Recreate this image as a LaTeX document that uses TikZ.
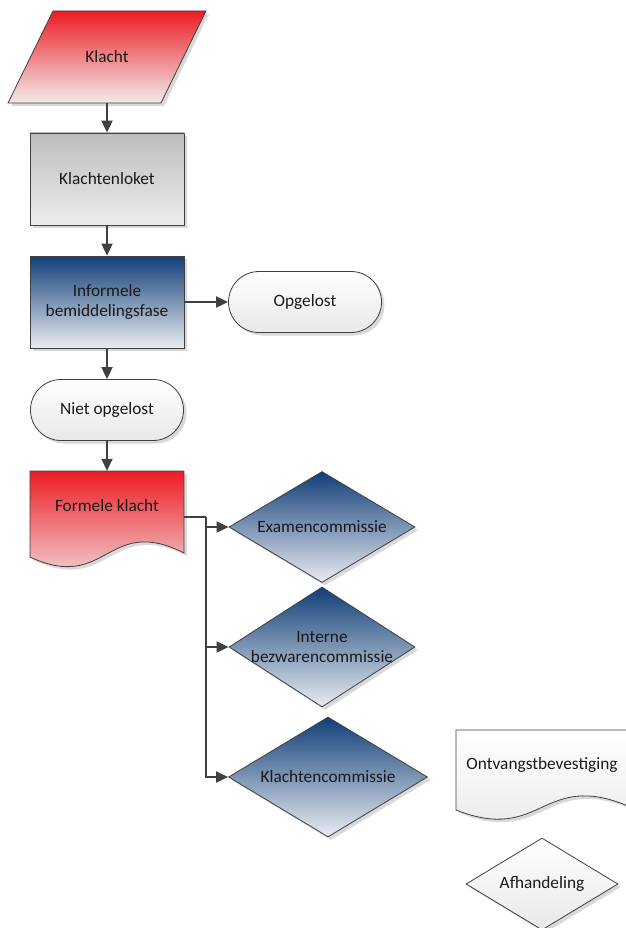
\documentclass[tikz,border=0pt]{standalone}
\usepackage{fontspec}
\setmainfont{Carlito}
\usetikzlibrary{shapes.geometric,shapes.misc,shadows,arrows.meta}
\definecolor{redtop}{HTML}{EC1C24}
\definecolor{redbot}{HTML}{F2ECEC}
\definecolor{bluetop}{HTML}{113F78}
\definecolor{bluebot}{HTML}{E9ECF1}
\definecolor{greytop}{HTML}{BDBDBD}
\definecolor{greybot}{HTML}{EDEDED}
\definecolor{edgec}{HTML}{404040}
\begin{document}
\begin{tikzpicture}[x=1pt,y=-1pt,
  shp/.style={draw=edgec, line width=0.8pt, drop shadow={shadow xshift=3pt,shadow yshift=-3pt,fill=black!15,opacity=1}},
  redfill/.style={top color=redtop,bottom color=redbot},
  bluefill/.style={top color=bluetop,bottom color=bluebot},
  greyfill/.style={top color=greytop,bottom color=greybot},
  whitefill/.style={top color=white,bottom color=black!9},
  box/.style={shp, rectangle, minimum width=154pt, minimum height=92pt, inner sep=0pt},
  frame/.style={rectangle, draw=none, inner sep=0pt},
  term/.style={shp, whitefill, rounded rectangle, minimum width=153pt, minimum height=61pt, inner sep=0pt},
  dia/.style={shp, diamond, inner sep=0pt},
  lbl/.style={font=\fontsize{17.3}{20.6}\selectfont, align=center, text=black!90, inner sep=0pt},
  arr/.style={draw=edgec, line width=1.8pt, -{Triangle[length=12pt,width=11pt]}},
  ln/.style={draw=edgec, line width=1.8pt}
]
\useasboundingbox (0,0) rectangle (625,928);

% Klacht (parallelogram)
\path[shp, redfill] (53,11) -- (206,11) -- (161,103) -- (8,103) -- cycle;
\node[frame, minimum width=153pt, minimum height=92pt] (klacht) at (107,57) {};
\node[lbl] (klachtT) at (klacht.center) {Klacht};

% Klachtenloket
\node[box, greyfill] (loket) at (107,179) {};
\node[lbl] (loketT) at (loket.center) {Klachtenloket};

% Informele bemiddelingsfase
\node[box, bluefill] (info) at (107,302) {};
\node[lbl] (infoT) at (info.center) {Informele\\bemiddelingsfase};

% Opgelost
\node[term] (opg) at (305,302) {};
\node[lbl] (opgT) at (opg.center) {Opgelost};

% Niet opgelost
\node[term] (niet) at (107,410) {};
\node[lbl] (nietT) at (niet.center) {Niet opgelost};

% Formele klacht (document)
\path[shp, redfill] (30,471) -- (184,471) -- (184,553)
   .. controls (107,514) and (107,593) .. (30,557) -- cycle;
\node[frame, minimum width=154pt, minimum height=92pt] (formele) at (107,517) {};
\node[lbl] (formeleT) at (107,506) {Formele klacht};

% Diamonds
\node[dia, bluefill, minimum width=186pt, minimum height=111pt] (exam) at (322,527) {};
\node[lbl] (examT) at (exam.center) {Examencommissie};
\node[dia, bluefill, minimum width=186pt, minimum height=120pt] (intern) at (322,647) {};
\node[lbl] (internT) at (intern.center) {Interne\\bezwarencommissie};
\node[dia, bluefill, minimum width=199pt, minimum height=120pt] (klcom) at (328,777) {};
\node[lbl] (klcomT) at (klcom.center) {Klachtencommissie};

% Ontvangstbevestiging (document, cut at right)
\path[shp, whitefill] (456,730) -- (628,730) -- (628,806)
   .. controls (542,770) and (542,844) .. (456,810) -- cycle;
\node[frame, minimum width=172pt, minimum height=80pt] (ontv) at (542,770) {};
\node[lbl] (ontvT) at (542,765) {Ontvangstbevestiging};

% Afhandeling
\node[dia, whitefill, minimum width=152pt, minimum height=92pt] (afh) at (542,884) {};
\node[lbl] (afhT) at (afh.center) {Afhandeling};

% Connectors
\draw[arr] (klacht.south) -- (loket.north);
\draw[arr] (loket.south) -- (info.north);
\draw[arr] (info.east) -- (opg.west);
\draw[arr] (info.south) -- (niet.north);
\draw[arr] (niet.south) -- (formele.north);
\coordinate (j) at (206,517);
\draw[ln] (formele.east) -- (j);
\draw[arr] (j) |- (exam.west);
\draw[arr] (j) |- (intern.west);
\draw[arr] (j) |- (klcom.west);
\end{tikzpicture}
\end{document}
